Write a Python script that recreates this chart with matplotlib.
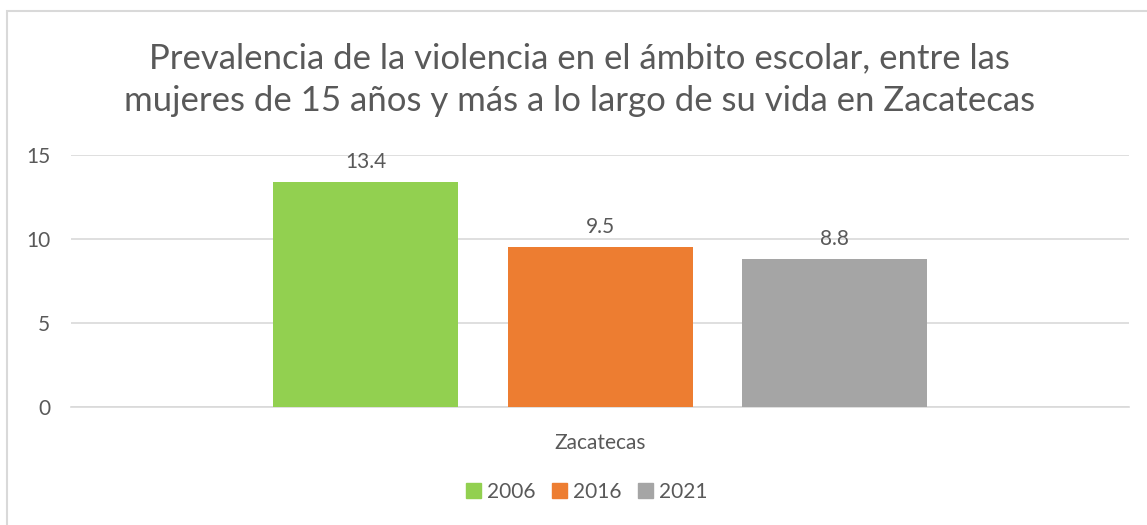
import matplotlib.pyplot as plt
from matplotlib.patches import Rectangle, Patch

# Data
category = 'Zacatecas'
years = ['2006', '2016', '2021']
values = [13.4, 9.5, 8.8]
colors = ['#92D050', '#ED7D31', '#A5A5A5']

text_color = '#595959'
grid_color = '#D9D9D9'
plt.rcParams['font.family'] = ['Lato', 'DejaVu Sans']

W, H = 1147, 525
fig = plt.figure(figsize=(W / 100, H / 100), dpi=100)
ax = fig.add_axes([71 / W, (H - 407) / H, 1058 / W, 252 / H])

# chart border (extends past right/bottom edges)
fig.patches.append(Rectangle((7 / W, -0.1), 1.2, (H - 11) / H + 0.1,
                             transform=fig.transFigure, fill=False,
                             edgecolor=grid_color, linewidth=1.5))

small = 15
bar_w = 185 / 1058
step = 234.5 / 1058
for i, (yr, v, c) in enumerate(zip(years, values, colors)):
    x = (i - 1) * step
    ax.bar(x, v, width=bar_w, color=c, zorder=3, label=yr)
    ax.text(x, v + 0.6, f'{v}', ha='center', va='bottom',
            fontsize=small, color=text_color)

ax.set_xlim(-0.5, 0.5)
ax.set_ylim(0, 15)
ax.set_yticks([0, 5, 10, 15])
ax.set_xticks([0])
ax.set_xticklabels([category])
ax.yaxis.grid(True, color=grid_color, linewidth=1.2, zorder=0)
ax.tick_params(axis='both', length=0, labelsize=small, colors=text_color)
ax.tick_params(axis='y', pad=15)
ax.tick_params(axis='x', pad=19)
for s in ax.spines.values():
    s.set_visible(False)
ax.spines['bottom'].set_visible(True)
ax.spines['bottom'].set_color(grid_color)
ax.spines['bottom'].set_linewidth(1.2)

fig.text(0.5 + 6 / W, 1 - 80 / H,
         'Prevalencia de la violencia en el ámbito escolar, entre las\n'
         'mujeres de 15 años y más a lo largo de su vida en Zacatecas',
         ha='center', va='center', fontsize=25, color=text_color,
         linespacing=1.42)

handles = [Patch(color=c, label=y) for y, c in zip(years, colors)]
fig.legend(handles=handles, loc='center', bbox_to_anchor=(587 / W, 1 - 492 / H),
           ncol=3, frameon=False, fontsize=small, labelcolor=text_color,
           handlelength=0.7, handleheight=0.7, handletextpad=0.3, columnspacing=0.8)

fig.savefig('out.png', dpi=100, facecolor='white')
